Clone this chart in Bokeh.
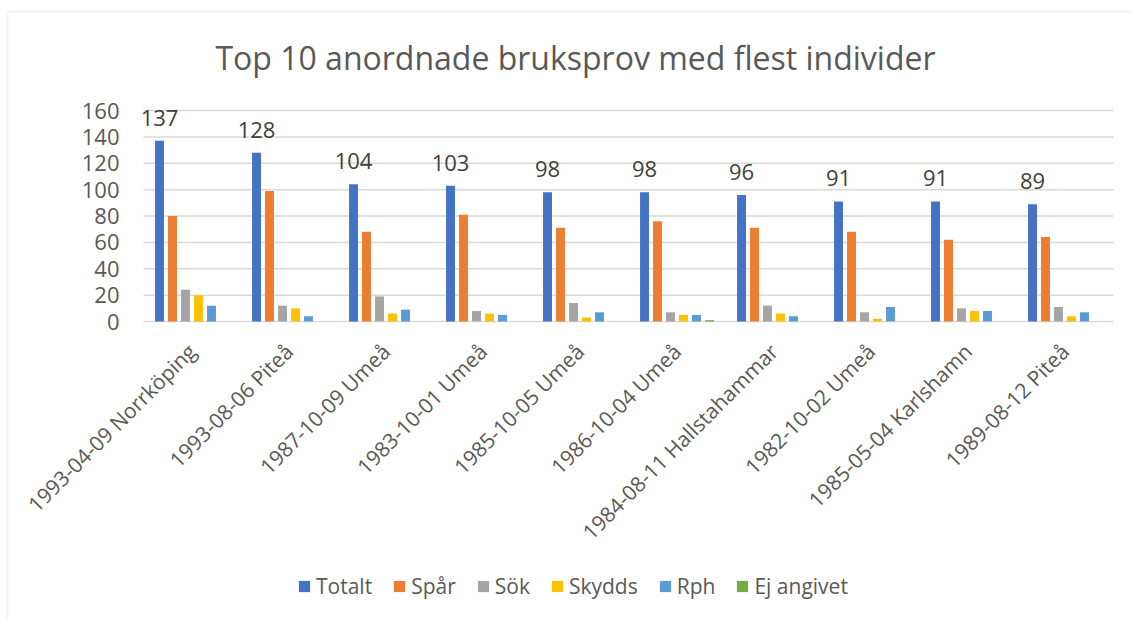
import math
from bokeh.plotting import figure
from bokeh.models import (ColumnDataSource, FixedTicker, Legend, LegendItem, Label,
                          Range1d, BoxAnnotation)
from bokeh.transform import dodge
from bokeh.embed import file_html
from bokeh.resources import INLINE
from bokeh.core.properties import value

categories = ["1993-04-09 Norrköping", "1993-08-06 Piteå", "1987-10-09 Umeå",
              "1983-10-01 Umeå", "1985-10-05 Umeå", "1986-10-04 Umeå",
              "1984-08-11 Hallstahammar", "1982-10-02 Umeå", "1985-05-04 Karlshamn",
              "1989-08-12 Piteå"]
series_names = ["Totalt", "Spår", "Sök", "Skydds", "Rph", "Ej angivet"]
totalt = [137, 128, 104, 103, 98, 98, 96, 91, 91, 89]
spar = [80, 99, 68, 81, 71, 76, 71, 68, 62, 64]
sok = [24, 12, 19, 8, 14, 7, 12, 7, 10, 11]
skydds = [20, 10, 6, 6, 3, 5, 6, 2, 8, 4]
rph = [12, 4, 9, 5, 7, 5, 4, 11, 8, 7]
ej_angivet = [0, 0, 0, 0, 0, 1, 0, 0, 0, 0]
y_ticks = [0, 20, 40, 60, 80, 100, 120, 140, 160]
title_text = "Top 10 anordnade bruksprov med flest individer"

colors = ["#4472C4", "#ED7D31", "#A5A5A5", "#FFC000", "#5B9BD5", "#70AD47"]
text_color = "#595959"
grid_color = "#D9D9D9"
font = "Open Sans"

W, H = 1131, 619
n = len(categories)
# layout in pixels: plot area x 143..1113, y(160)=110, y(0)=321
px_left, px_right, px_top, px_zero = 143, 1113, 110, 321
cat_px = (px_right - px_left) / n
ppu = (px_zero - px_top) / y_ticks[-1]
x_start = -0.5 - px_left / cat_px
x_end = -0.5 + (W - px_left) / cat_px
y_top = px_zero / ppu
y_bot = -(H - px_zero) / ppu

def xpx(px):
    return x_start + px / cat_px

def ypx(py):
    return (px_zero - py) / ppu

xs = list(range(n))
src = ColumnDataSource(dict(x=xs, Totalt=totalt, Spar=spar, Sok=sok, Skydds=skydds,
                            Rph=rph, Ej=ej_angivet, lbl=[str(v) for v in totalt]))
cols = ["Totalt", "Spar", "Sok", "Skydds", "Rph", "Ej"]

p = figure(width=W, height=H, output_backend="svg", toolbar_location=None,
           x_range=Range1d(x_start, x_end), y_range=Range1d(y_bot, y_top),
           min_border_left=0, min_border_right=0, min_border_top=0, min_border_bottom=0)
p.outline_line_color = None
p.background_fill_color = "white"
p.border_fill_color = "white"

# chart border (left and top visible)
p.add_layout(BoxAnnotation(left=xpx(7), top=ypx(11), right=x_end + 1, bottom=y_bot - 10,
                           fill_alpha=0, line_color=grid_color, line_width=2))

# gridlines
p.segment(x0=-0.5, x1=n - 0.5, y0=y_ticks, y1=y_ticks, line_color=grid_color, line_width=1.5)

p.add_layout(Label(x=xpx(575), y=ypx(57), text=title_text, text_align="center",
                   text_baseline="middle", text_font_size="32px", text_font=font,
                   text_color=text_color))

pitch = 0.134
bw = 0.092
renderers = []
for j, c in enumerate(cols):
    r = p.vbar(x=dodge("x", (j - 2.5) * pitch, range=p.x_range), top=c, width=bw,
               bottom=0, source=src, fill_color=colors[j], line_color=None)
    renderers.append(r)

p.text(x=dodge("x", -2.5 * pitch, range=p.x_range), y="Totalt", text="lbl", source=src,
       text_align="center", text_baseline="bottom", y_offset=-15,
       text_font=value(font), text_font_size="22px", text_color="#404040")

# axes
p.yaxis.fixed_location = -0.5
p.yaxis.ticker = FixedTicker(ticks=y_ticks)
p.yaxis.axis_line_color = None
p.yaxis.major_tick_line_color = None
p.yaxis.minor_tick_line_color = None
p.yaxis.major_label_standoff = 18
p.yaxis.major_label_text_font_size = "22px"
p.yaxis.major_label_text_font = font
p.yaxis.major_label_text_color = text_color

p.xaxis.fixed_location = 0
p.xaxis.ticker = FixedTicker(ticks=xs)
p.xaxis.major_label_overrides = {i: c for i, c in enumerate(categories)}
p.xaxis.major_label_orientation = math.pi / 4
p.xaxis.axis_line_color = None
p.xaxis.major_tick_line_color = None
p.xaxis.minor_tick_line_color = None
p.xaxis.major_label_standoff = 20
p.xaxis.major_label_text_font_size = "21px"
p.xaxis.major_label_text_font = font
p.xaxis.major_label_text_color = text_color

p.xgrid.grid_line_color = None
p.ygrid.grid_line_color = None

legend = Legend(items=[LegendItem(label=nm, renderers=[r]) for nm, r in zip(series_names, renderers)],
                orientation="horizontal", location=(297, 19), glyph_width=14, glyph_height=14,
                label_text_font_size="21px", label_text_font=font, label_text_color=text_color,
                spacing=20, label_standoff=5, border_line_color=None, background_fill_alpha=0)
p.add_layout(legend, "center")

open("out.html", "w").write(file_html(p, INLINE))
